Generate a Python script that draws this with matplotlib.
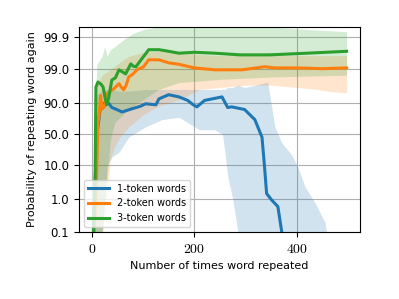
#! /usr/bin/env python3
import numpy as np
import matplotlib
matplotlib.use('Agg')
import matplotlib.pyplot as plt
from matplotlib.ticker import FixedLocator, FixedFormatter

# mean probability (%) of repeating the word again
blue_x = [1, 5, 10, 14, 16, 20, 24, 33, 39, 50, 59, 78, 95, 105, 125, 131, 150,
          170, 187, 198, 205, 220, 254, 265, 273, 298, 318, 332, 337, 341, 351,
          363, 371, 375]
blue_y = [0.01, 1, 50, 75, 85, 88, 90, 90, 87, 85, 83, 85.9, 88, 89.7, 89, 92.5,
          94.3, 93.4, 91.7, 89, 87.5, 91.7, 93.4, 87, 87.5, 85.3, 74, 45, 9, 1.5,
          0.95, 0.6, 0.09, 0.02]

orange_x = [1, 8, 12, 14, 17, 19, 21, 25, 29, 36, 43, 53, 58, 62, 67, 72, 80,
            88, 101, 111, 131, 150, 170, 200, 240, 293, 337, 357, 400, 450, 497]
orange_y = [0.01, 1, 70, 77.5, 94, 90, 86, 88, 94.6, 95.5, 96.2, 97.3, 96.5,
            95.9, 97.0, 98.3, 98.6, 98.97, 99.17, 99.49, 99.49, 99.37, 99.3,
            99.1, 98.97, 98.97, 99.17, 99.1, 99.1, 99.05, 99.1]

green_x = [1, 6, 8, 12, 18, 22, 26, 29, 33, 39, 46, 53, 60, 66, 72, 76, 81, 86,
           96, 104, 111, 131, 150, 170, 200, 240, 289, 347, 420, 497]
green_y = [0.01, 1, 96.6, 97.6, 97.2, 96.6, 93, 89, 93, 97.9, 98.2, 98.97, 98.8,
           98.63, 99.1, 99.32, 99.2, 99.17, 99.49, 99.65, 99.75, 99.75, 99.72,
           99.68, 99.7, 99.68, 99.64, 99.64, 99.68, 99.72]

# shaded spread (%) around each mean
blue_band_x = [5, 10, 20, 30, 40, 53, 72, 105, 137, 170, 210, 240, 255, 260,
               265, 275, 285, 298, 320, 343, 357, 371, 390, 402, 416, 435, 455,
               468]
blue_lo = [0.01, 0.01, 0.05, 10, 17, 22, 45, 63, 74, 77, 58, 58, 50, 20, 5, 1,
           0.1, 0.01, 0.01, 0.01, 0.01, 0.01, 0.01, 0.01, 0.01, 0.01, 0.01, 0.01]
blue_hi = [60, 94, 96, 96, 96, 95.5, 95.5, 96, 96, 96, 96, 96, 96, 96, 96.5,
           96.5, 97, 96.5, 97, 97.6, 63, 35, 19, 9, 2.4, 0.8, 0.2, 0.01]

orange_band_x = [5, 10, 20, 30, 36, 45, 55, 72, 100, 130, 170, 210, 250, 300,
                 350, 400, 440, 470, 497]
orange_lo = [0.01, 0.01, 0.1, 1, 15, 30, 45, 63, 80, 88, 92, 96, 96.5, 97, 97,
             96.5, 96, 95.3, 95]
orange_hi = [70, 97, 98.5, 98.8, 99, 99.2, 99.4, 99.6, 99.7, 99.72, 99.7, 99.65,
             99.62, 99.62, 99.62, 99.62, 99.62, 99.62, 99.62]

green_band_x = [5, 10, 20, 25, 30, 36, 45, 60, 80, 100, 130, 170, 250, 350, 420,
                497]
green_lo = [0.01, 0.05, 0.1, 1, 5, 40, 70, 80, 88, 92, 96, 97.5, 98, 98.3, 98.4,
            98.5]
green_hi = [80, 99.3, 99.6, 99.8, 99.6, 99.75, 99.8, 99.87, 99.92, 99.94, 99.95,
            99.96, 99.955, 99.95, 99.94, 99.93]

y_ticks = [0.1, 1.0, 10.0, 50.0, 90.0, 99.0, 99.9]
x_ticks = [0, 200, 400]
labels = ['1-token words', '2-token words', '3-token words']


def main():
    plt.rcParams['mathtext.fontset'] = 'cm'
    fig = plt.figure(figsize=(3.99, 2.99), dpi=100)
    ax = fig.add_axes([0.198, 0.224, 0.704, 0.686])

    series = [(blue_x, blue_y, blue_band_x, blue_lo, blue_hi, 'tab:blue'),
              (orange_x, orange_y, orange_band_x, orange_lo, orange_hi, 'tab:orange'),
              (green_x, green_y, green_band_x, green_lo, green_hi, 'tab:green')]

    for (x, y, bx, lo, hi, c), lab in zip(series, labels):
        ax.fill_between(bx, np.array(lo) / 100, np.array(hi) / 100,
                        color=c, alpha=0.2, linewidth=0)
    for (x, y, bx, lo, hi, c), lab in zip(series, labels):
        ax.plot(x, np.array(y) / 100, color=c, linewidth=2.2, label=lab)

    ax.set_yscale('logit')
    ax.set_ylim(0.001, 0.9995)
    ax.set_xlim(-25, 523)
    ax.yaxis.set_major_locator(FixedLocator([t / 100 for t in y_ticks]))
    ax.yaxis.set_major_formatter(FixedFormatter(['{:.1f}'.format(t) for t in y_ticks]))
    ax.yaxis.set_minor_locator(FixedLocator([]))
    ax.set_xticks(x_ticks)
    ax.set_xticklabels(['${}$'.format(t) for t in x_ticks])
    ax.tick_params(axis='y', labelsize=8.5)
    ax.tick_params(axis='x', labelsize=10)
    ax.grid(True, color='#b0b0b0', linewidth=0.8)
    ax.set_axisbelow(True)

    ax.set_xlabel('Number of times word repeated', fontsize=8)
    ax.set_ylabel('Probability of repeating word again', fontsize=8)
    ax.legend(loc='lower left', fontsize=7, handlelength=2.2)

    fig.savefig('out.png', dpi=100)


if __name__ == "__main__":
    main()
